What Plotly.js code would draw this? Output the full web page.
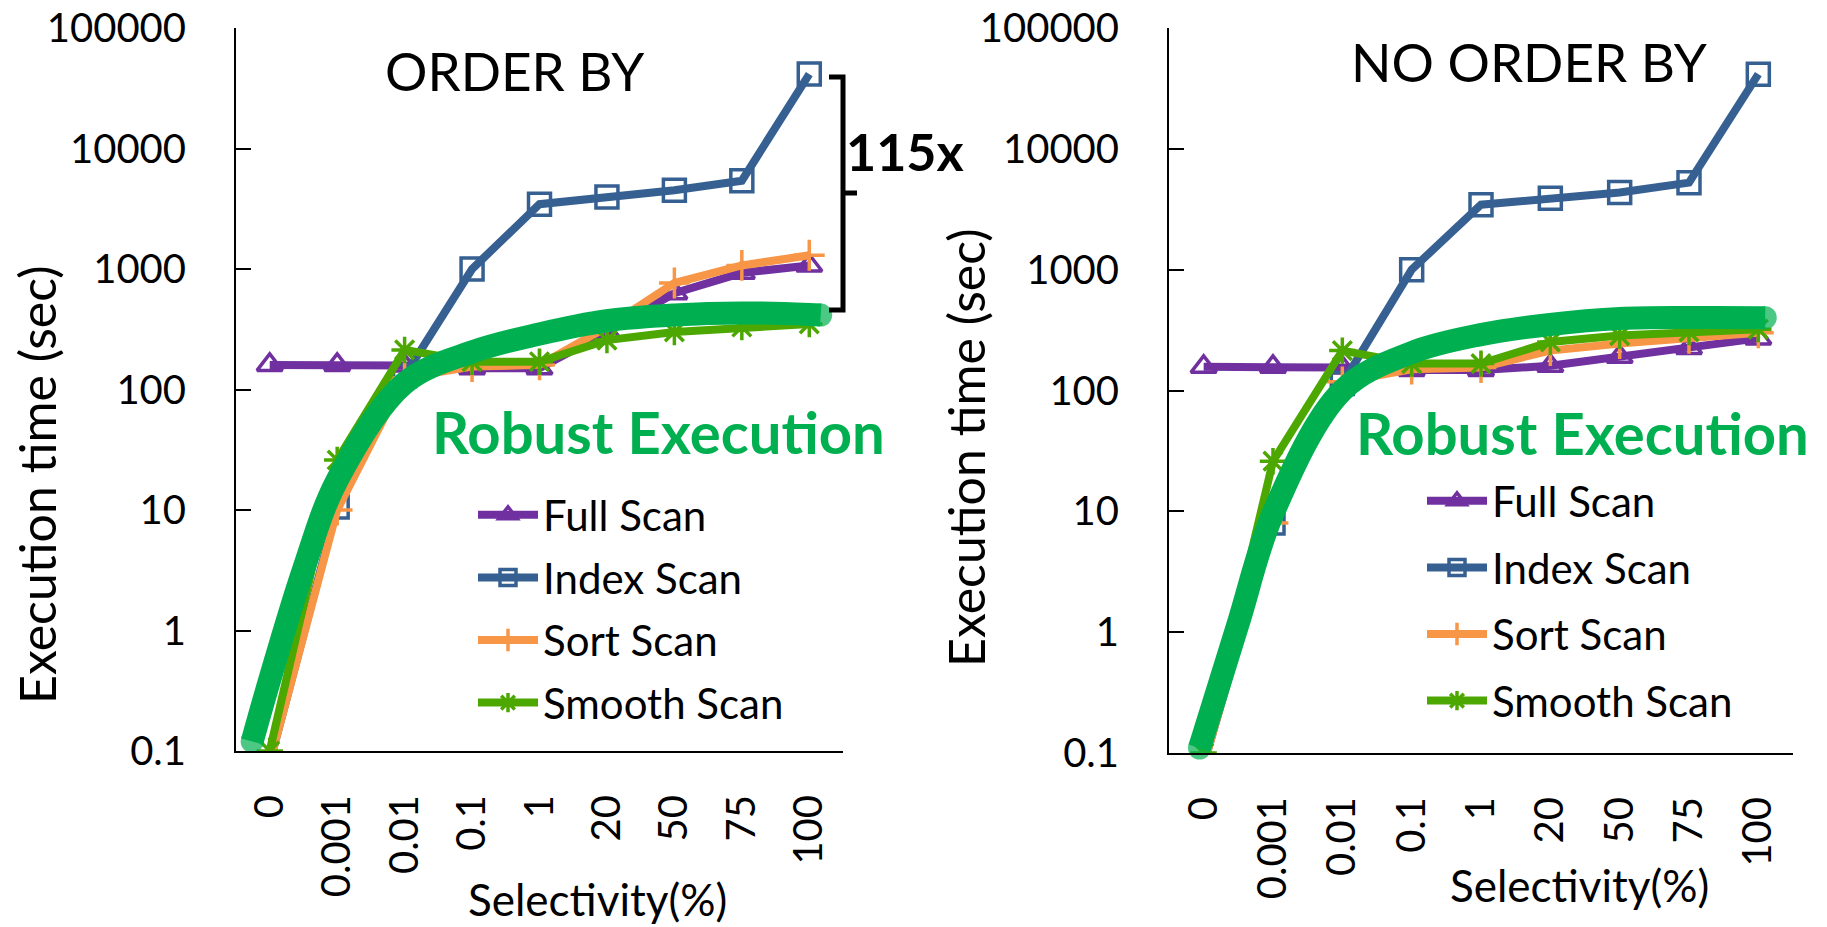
<!DOCTYPE html>
<html><head><meta charset="utf-8">
<script src="https://cdn.plot.ly/plotly-3.0.1.min.js"></script>
<style>html,body{margin:0;padding:0;background:#fff}#chart{width:1827px;height:927px}</style>
</head><body><div id="chart"></div>
<script>
var categories = ["0","0.001","0.01","0.1","1","20","50","75","100"];
var yTickVals = [0.1,1,10,100,1000,10000,100000];
var yTickText = ["0.1","1","10","100","1000","10000","100000"];

// ORDER BY panel
var fullL   = [160,160,158,150,150,300,630,930,1070];
var indexL  = [0.08,10.6,130,1000,3450,3950,4500,5400,41500];
var sortL   = [0.08,10,125,155,160,330,765,1070,1300];
var smoothL = [0.1,26,213,170,170,257,300,330,350];
var robustXL = [-0.26,0,0.5,1,2,3,4,5,6,7,8,8.17];
var robustYL = [0.12,0.39,3.2,17.7,113,205,289,372,415,432,420,415];

// NO ORDER BY panel
var fullR   = [157,157,155,148,148,160,190,225,270];
var indexR  = [0.08,8,114,1000,3450,3900,4350,5250,41500];
var sortR   = [0.08,8,118,150,155,214,245,270,300];
var smoothR = [0.1,26,214,167,167,252,285,305,322];
var robustXR = [-0.06,0.5,1,2,3,4,5,6,7,8,8.1];
var robustYR = [0.11,1.19,9.6,100,206,290,352,394,402,400,400];

var FONT = "Lato, 'Open Sans', sans-serif";
var W = 1827, H = 927;
var idx = categories.map(function(c,i){return i;});

function series(name, y, color, symbol, xa, ya, leg) {
  return {
    x: idx, y: y, name: name, type: 'scatter', mode: 'lines+markers',
    xaxis: xa, yaxis: ya, legend: leg, legendgroup: name + leg,
    line: {color: color, width: 8},
    marker: {symbol: symbol, size: 22, color: color, line: {color: color, width: 3.5}},
    cliponaxis: true
  };
}
function robust(xs, ys, xa, ya) {
  var sizes = xs.map(function(v,i){return (i===0||i===xs.length-1)?23:0;});
  return {
    x: xs, y: ys, type: 'scatter', mode: 'lines+markers', showlegend: false,
    xaxis: xa, yaxis: ya, hoverinfo: 'skip', cliponaxis: false,
    line: {color: '#00B050', width: 23, shape: 'spline', smoothing: 1},
    marker: {size: sizes, color: '#00B050', line: {width: 0}}
  };
}

var data = [
  series('Full Scan', fullL, '#7030A0', 'triangle-up-open', 'x', 'y', 'legend'),
  series('Index Scan', indexL, '#376092', 'square-open', 'x', 'y', 'legend'),
  series('Sort Scan', sortL, '#F79646', 'cross-thin-open', 'x', 'y', 'legend'),
  series('Smooth Scan', smoothL, '#4CA800', 'asterisk-open', 'x', 'y', 'legend'),
  robust(robustXL, robustYL, 'x', 'y'),
  series('Full Scan', fullR, '#7030A0', 'triangle-up-open', 'x2', 'y2', 'legend2'),
  series('Index Scan', indexR, '#376092', 'square-open', 'x2', 'y2', 'legend2'),
  series('Sort Scan', sortR, '#F79646', 'cross-thin-open', 'x2', 'y2', 'legend2'),
  series('Smooth Scan', smoothR, '#4CA800', 'asterisk-open', 'x2', 'y2', 'legend2'),
  robust(robustXR, robustYR, 'x2', 'y2')
];

function px(x){return x/W;}
function py(y){return 1 - y/H;}

var xaxBase = {
  type: 'linear', range: [-0.5, 8.5], tickvals: idx, ticktext: categories,
  tickangle: -90, showline: true, linecolor: '#000', linewidth: 2,
  showgrid: false, zeroline: false, ticks: '', ticklabelstandoff: 26,
  tickfont: {family: FONT, size: 40, color: '#000'}, fixedrange: true
};
var yaxBase = {
  type: 'log', range: [-1, 5], tickvals: yTickVals, ticktext: yTickText,
  showline: true, linecolor: '#000', linewidth: 2, showgrid: false, zeroline: false,
  ticks: 'inside', ticklen: 15, tickwidth: 2, tickcolor: '#000', ticklabelstandoff: 40,
  tickfont: {family: FONT, size: 40, color: '#000'}, fixedrange: true
};
function ext(a,b){var o={};for(var k in a)o[k]=a[k];for(var k2 in b)o[k2]=b[k2];return o;}

var legBase = {
  bgcolor: 'rgba(0,0,0,0)', borderwidth: 0, itemwidth: 60,
  font: {family: FONT, size: 42, color: '#000'}, xanchor: 'left', yanchor: 'top'
};

var layout = {
  width: W, height: H, margin: {l:0, r:0, t:0, b:0},
  paper_bgcolor: '#fff', plot_bgcolor: 'rgba(0,0,0,0)', showlegend: true,
  xaxis: ext(xaxBase, {domain: [px(236), px(843)], anchor: 'y'}),
  yaxis: ext(yaxBase, {domain: [py(751), py(28)], anchor: 'x'}),
  xaxis2: ext(xaxBase, {domain: [px(1169), px(1793)], anchor: 'y2'}),
  yaxis2: ext(yaxBase, {domain: [py(753), py(28)], anchor: 'x2'}),
  legend: ext(legBase, {x: px(473), y: py(481), tracegroupgap: 5}),
  legend2: ext(legBase, {x: px(1422), y: py(467), tracegroupgap: 9}),
  annotations: [
    {text: 'ORDER BY', xref: 'paper', yref: 'paper', x: px(515), y: py(70), showarrow: false,
     xanchor: 'center', yanchor: 'middle', font: {family: FONT, size: 53, color: '#000'}},
    {text: 'NO ORDER BY', xref: 'paper', yref: 'paper', x: px(1529), y: py(61), showarrow: false,
     xanchor: 'center', yanchor: 'middle', font: {family: FONT, size: 53, color: '#000'}},
    {text: '<b>Robust Execution</b>', xref: 'paper', yref: 'paper', x: px(658), y: py(431), showarrow: false,
     xanchor: 'center', yanchor: 'middle', font: {family: FONT, size: 58, color: '#00B050'}},
    {text: '<b>Robust Execution</b>', xref: 'paper', yref: 'paper', x: px(1582), y: py(432), showarrow: false,
     xanchor: 'center', yanchor: 'middle', font: {family: FONT, size: 58, color: '#00B050'}},
    {text: '<b>115x</b>', xref: 'paper', yref: 'paper', x: px(905), y: py(151), showarrow: false,
     xanchor: 'center', yanchor: 'middle', font: {family: FONT, size: 52, color: '#000'}},
    {text: 'Execution time (sec)', xref: 'paper', yref: 'paper', x: px(37), y: py(485), showarrow: false,
     textangle: -90, xanchor: 'center', yanchor: 'middle', font: {family: FONT, size: 50, color: '#000'}},
    {text: 'Execution time (sec)', xref: 'paper', yref: 'paper', x: px(966), y: py(448), showarrow: false,
     textangle: -90, xanchor: 'center', yanchor: 'middle', font: {family: FONT, size: 50, color: '#000'}},
    {text: 'Selectivity(%)', xref: 'paper', yref: 'paper', x: px(597), y: py(899), showarrow: false,
     xanchor: 'center', yanchor: 'middle', font: {family: FONT, size: 44, color: '#000'}},
    {text: 'Selectivity(%)', xref: 'paper', yref: 'paper', x: px(1579), y: py(885), showarrow: false,
     xanchor: 'center', yanchor: 'middle', font: {family: FONT, size: 44, color: '#000'}}
  ],
  shapes: [
    {type: 'path', xref: 'paper', yref: 'paper',
     path: 'M ' + px(829) + ',' + py(77) + ' L ' + px(843) + ',' + py(77) + ' L ' + px(843) + ',' + py(310) +
           ' L ' + px(829) + ',' + py(310) + ' M ' + px(843) + ',' + py(193) + ' L ' + px(857) + ',' + py(193),
     line: {color: '#000', width: 5}}
  ]
};

Plotly.newPlot('chart', data, layout, {staticPlot: true, displayModeBar: false});
</script></body></html>
